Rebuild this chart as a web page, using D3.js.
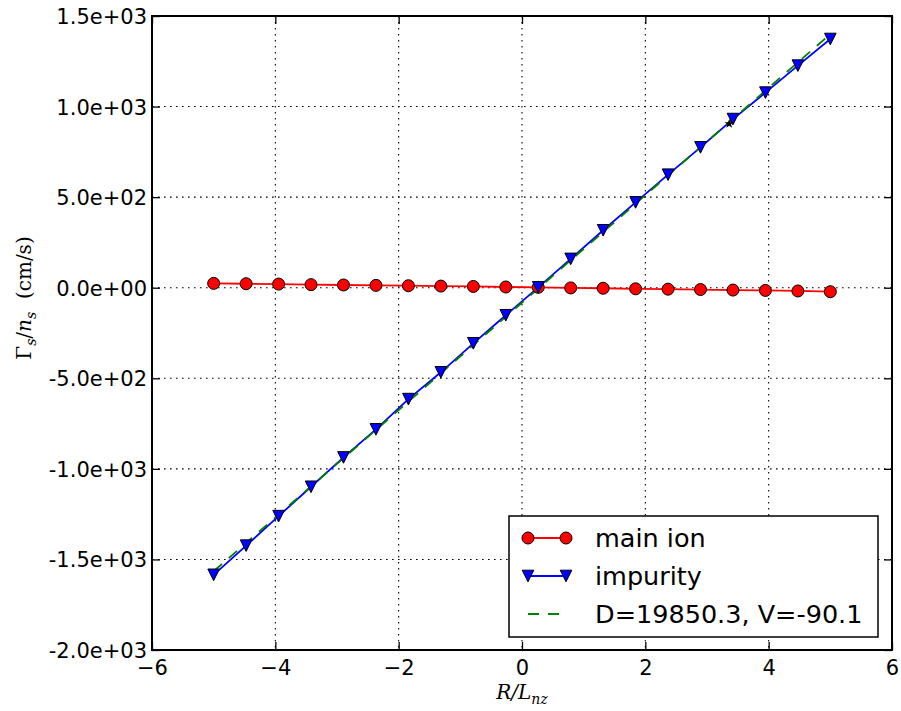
<!DOCTYPE html>
<html>
<head>
<meta charset="utf-8">
<script src="https://cdn.jsdelivr.net/npm/d3@7"></script>
<style>
  body { margin: 0; background: #fff; }
  text { font-family: "DejaVu Sans", sans-serif; }
</style>
</head>
<body>
<svg id="chart" width="901" height="711"></svg>
<script>
// data
var xValues = [-5, -4.4737, -3.9474, -3.4211, -2.8947, -2.3684, -1.8421, -1.3158, -0.7895, -0.2632,
               0.2632, 0.7895, 1.3158, 1.8421, 2.3684, 2.8947, 3.4211, 3.9474, 4.4737, 5];
var mainIon = [24, 22, 20, 17, 15, 13, 11, 9, 7, 4, 2, -1, -3, -6, -8, -10, -13, -15, -18, -22];
var impurity = [-1585, -1424, -1261, -1099, -937, -782, -615, -467, -307, -152,
                2, 159, 317, 471, 624, 775, 931, 1077, 1226, 1373];
var fitX = [-5, 5];
var fitY = [-1565, 1400];
var starPoint = [3.36, 905];

var xTicks = [-6, -4, -2, 0, 2, 4, 6];
var xTickLabels = ["\u22126", "\u22124", "\u22122", "0", "2", "4", "6"];
var yTicks = [-2000, -1500, -1000, -500, 0, 500, 1000, 1500];
var yTickLabels = ["-2.0e+03", "-1.5e+03", "-1.0e+03", "-5.0e+02", "0.0e+00", "5.0e+02", "1.0e+03", "1.5e+03"];
var legendLabels = ["main ion", "impurity", "D=19850.3, V=-90.1"];

var svg = d3.select("#chart");
var margin = {top: 16, right: 9, bottom: 61, left: 152};
var width = 901 - margin.left - margin.right,
    height = 711 - margin.top - margin.bottom;

var x = d3.scaleLinear().domain([-6, 6]).range([0, width]);
var y = d3.scaleLinear().domain([-2000, 1500]).range([height, 0]);

var g = svg.append("g").attr("transform", "translate(" + margin.left + "," + margin.top + ")");

// grid
g.append("g").selectAll("line.gx")
  .data(xTicks.slice(1, -1)).enter().append("line")
    .attr("x1", function(d){ return x(d) }).attr("x2", function(d){ return x(d) })
    .attr("y1", 0).attr("y2", height)
    .attr("stroke", "#000").attr("stroke-width", 1.1).attr("stroke-dasharray", "1.6,4.4");
g.append("g").selectAll("line.gy")
  .data(yTicks.slice(1, -1)).enter().append("line")
    .attr("y1", function(d){ return y(d) }).attr("y2", function(d){ return y(d) })
    .attr("x1", 0).attr("x2", width)
    .attr("stroke", "#000").attr("stroke-width", 1.1).attr("stroke-dasharray", "1.6,4.4");

// axes, ticks pointing inward
function styleAxis(sel) {
  sel.select(".domain").remove();
  sel.selectAll(".tick line").attr("stroke", "#000").attr("stroke-width", 1.3);
  sel.selectAll("text").attr("fill", "#000").style("font-size", "21px");
}
g.append("g").attr("transform", "translate(0," + height + ")")
  .call(d3.axisBottom(x).tickValues(xTicks).tickSize(-8).tickPadding(10)
    .tickFormat(function(d, i){ return xTickLabels[i] }))
  .call(styleAxis);
g.append("g")
  .call(d3.axisLeft(y).tickValues(yTicks).tickSize(-8).tickPadding(5)
    .tickFormat(function(d, i){ return yTickLabels[i] }))
  .call(styleAxis)
  .selectAll("text").attr("dy", "0.36em");
g.append("g")
  .call(d3.axisTop(x).tickValues(xTicks).tickSize(-8).tickFormat(""))
  .call(styleAxis);
g.append("g").attr("transform", "translate(" + width + ",0)")
  .call(d3.axisRight(y).tickValues(yTicks).tickSize(-8).tickFormat(""))
  .call(styleAxis);

// lines
var line = d3.line().x(function(d){ return x(d[0]) }).y(function(d){ return y(d[1]) });
var mainData = xValues.map(function(d, i){ return [d, mainIon[i]] });
var impData = xValues.map(function(d, i){ return [d, impurity[i]] });
var fitData = fitX.map(function(d, i){ return [d, fitY[i]] });

g.append("path").datum(mainData).attr("d", line)
  .attr("fill", "none").attr("stroke", "#ff0000").attr("stroke-width", 1.8);
g.append("path").datum(impData).attr("d", line)
  .attr("fill", "none").attr("stroke", "#0000ff").attr("stroke-width", 1.8);
g.append("path").datum(fitData).attr("d", line)
  .attr("fill", "none").attr("stroke", "#008000").attr("stroke-width", 1.8)
  .attr("stroke-dasharray", "11,9");

// markers
var tri = "M-5.8,-5.8L5.8,-5.8L0,5.8Z";
g.append("g").selectAll("circle")
  .data(mainData).enter().append("circle")
    .attr("cx", function(d){ return x(d[0]) })
    .attr("cy", function(d){ return y(d[1]) })
    .attr("r", 6)
    .attr("fill", "#ff0000").attr("stroke", "#000").attr("stroke-width", 1);
g.append("g").selectAll("path")
  .data(impData).enter().append("path")
    .attr("d", tri)
    .attr("transform", function(d){ return "translate(" + x(d[0]) + "," + y(d[1]) + ")" })
    .attr("fill", "#0000ff").attr("stroke", "#000").attr("stroke-width", 1);
g.append("path")
  .attr("d", d3.symbol().type(d3.symbolStar).size(28)())
  .attr("transform", "translate(" + x(starPoint[0]) + "," + y(starPoint[1]) + ")")
  .attr("fill", "#000");

// frame
g.append("rect").attr("width", width).attr("height", height)
  .attr("fill", "none").attr("stroke", "#000").attr("stroke-width", 2);

// axis labels (math style)
var mathFont = "'DejaVu Serif', serif";
svg.append("text")
  .attr("x", margin.left + x(0)).attr("y", 699)
  .attr("text-anchor", "middle")
  .style("font-family", mathFont).style("font-style", "italic").style("font-size", "20px")
  .html('R/L<tspan dy="5" font-size="14px">nz</tspan>');

svg.append("text")
  .attr("transform", "translate(31,298) rotate(-90)")
  .attr("text-anchor", "middle")
  .style("font-family", mathFont).style("font-size", "20px")
  .html('\u0393<tspan dy="5" font-size="14px" font-style="italic">s</tspan><tspan dy="-5">/</tspan><tspan font-style="italic">n</tspan><tspan dy="5" font-size="14px" font-style="italic">s</tspan><tspan dy="-5">\u00a0\u00a0(cm/s)</tspan>');

// legend
var lg = svg.append("g").attr("transform", "translate(509,516)");
lg.append("rect").attr("width", 369).attr("height", 121)
  .attr("fill", "#fff").attr("stroke", "#000").attr("stroke-width", 1.5);
var rows = [22, 60, 98];
var sx1 = 19, sx2 = 57;
// main ion
lg.append("line").attr("x1", sx1).attr("x2", sx2).attr("y1", rows[0]).attr("y2", rows[0])
  .attr("stroke", "#ff0000").attr("stroke-width", 1.8);
[sx1, sx2].forEach(function(px){
  lg.append("circle").attr("cx", px).attr("cy", rows[0]).attr("r", 6)
    .attr("fill", "#ff0000").attr("stroke", "#000").attr("stroke-width", 1);
});
// impurity
lg.append("line").attr("x1", sx1).attr("x2", sx2).attr("y1", rows[1]).attr("y2", rows[1])
  .attr("stroke", "#0000ff").attr("stroke-width", 1.8);
[sx1, sx2].forEach(function(px){
  lg.append("path").attr("d", tri).attr("transform", "translate(" + px + "," + rows[1] + ")")
    .attr("fill", "#0000ff").attr("stroke", "#000").attr("stroke-width", 1);
});
// fit
lg.append("line").attr("x1", sx1).attr("x2", sx2).attr("y1", rows[2]).attr("y2", rows[2])
  .attr("stroke", "#008000").attr("stroke-width", 1.8).attr("stroke-dasharray", "11,9");

lg.selectAll("text.lab").data(legendLabels).enter().append("text")
  .attr("x", 86).attr("y", function(d, i){ return rows[i] })
  .attr("dy", "0.36em")
  .style("font-size", "25.5px")
  .text(function(d){ return d });
</script>
</body>
</html>
